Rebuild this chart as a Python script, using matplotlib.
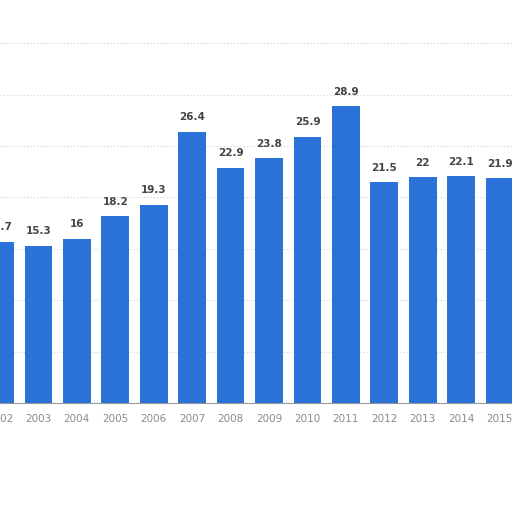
import matplotlib
matplotlib.use('Agg')
import matplotlib.pyplot as plt

years = ['2002', '2003', '2004', '2005', '2006', '2007', '2008', '2009',
         '2010', '2011', '2012', '2013', '2014', '2015']
values = [15.7, 15.3, 16, 18.2, 19.3, 26.4, 22.9, 23.8, 25.9, 28.9, 21.5, 22, 22.1, 21.9]
value_labels = ['15.7', '15.3', '16', '18.2', '19.3', '26.4', '22.9', '23.8',
                '25.9', '28.9', '21.5', '22', '22.1', '21.9']

fig = plt.figure(figsize=(5.12, 5.12), dpi=100)
ax = fig.add_axes([0, 109 / 512, 1, 403 / 512])

x = list(range(len(years)))
bars = ax.bar(x, values, width=0.72, color='#2a72d8', zorder=3)

for bar, lab in zip(bars, value_labels):
    ax.text(bar.get_x() + bar.get_width() / 2, bar.get_height() + 0.9, lab,
            ha='center', va='bottom', fontsize=7.5, fontweight='bold',
            color='#444444', clip_on=False)

ax.set_xlim(0.170, 13.322)
ax.set_ylim(0, 39.2)
ax.set_xticks(x)
ax.set_xticklabels(years, fontsize=7.5, color='#8a8a8a')
ax.tick_params(axis='x', length=0, pad=8)
ax.set_yticks([5, 10, 15, 20, 25, 30, 35])
ax.set_yticklabels([])
ax.tick_params(axis='y', length=0)
ax.grid(True, axis='y', linestyle=(0, (1, 2)), color='#d0d0d0', linewidth=0.8, zorder=0)

for side in ['top', 'right', 'left']:
    ax.spines[side].set_visible(False)
ax.spines['bottom'].set_color('#999999')
ax.spines['bottom'].set_linewidth(0.8)

fig.savefig('out.png', dpi=100)
